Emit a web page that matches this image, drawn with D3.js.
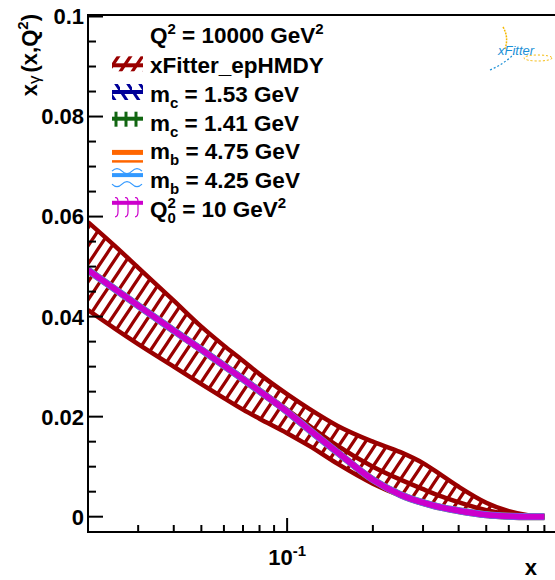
<!DOCTYPE html>
<html>
<head>
<meta charset="utf-8">
<script src="https://cdn.jsdelivr.net/npm/d3@7"></script>
<style>
	body { margin: 0; background: #fff; }
	svg { display: block; font-family: "Liberation Sans", Arial, Helvetica, sans-serif; font-weight: bold; }
</style>
</head>
<body>
<div id="chart"></div>
<script>
// x grid of the curves
var x_vals = [0.02, 0.025, 0.03, 0.04, 0.05, 0.06, 0.07, 0.08, 0.1, 0.12, 0.15, 0.2, 0.25, 0.3, 0.35, 0.4, 0.5, 0.6, 0.7, 0.8];

// xFitter_epHMDY band (upper / lower edge) and central value
var band_up = [0.0589, 0.0540, 0.0498, 0.0432, 0.0380, 0.0342, 0.0312, 0.0285, 0.0245, 0.0215, 0.0182, 0.0150, 0.0129, 0.0107, 0.0082, 0.0060, 0.0028, 0.0011, 0.0003, 0.0];
var band_lo = [0.0413, 0.0375, 0.0345, 0.0300, 0.0265, 0.0237, 0.0214, 0.0196, 0.0167, 0.0141, 0.0106, 0.0066, 0.0042, 0.0026, 0.0017, 0.0011, 0.0005, 0.0002, 0.0, 0.0];
var central = [0.0495, 0.0456, 0.0424, 0.0374, 0.0336, 0.0305, 0.0278, 0.0254, 0.0214, 0.0181, 0.0142, 0.0100, 0.0074, 0.0055, 0.0040, 0.0029, 0.0013, 0.0005, 0.0001, 0.0];

// variations (mc, mb, Q0^2) sit on top of each other
var variant_central = [0.0493, 0.0454, 0.0422, 0.0372, 0.0334, 0.0302, 0.0275, 0.0251, 0.0210, 0.0173, 0.0129, 0.0074, 0.0044, 0.0028, 0.0018, 0.0012, 0.0004, 0.0001, 0.0, 0.0];

var legend_labels = ["xFitter_epHMDY", "m_c = 1.53 GeV", "m_c = 1.41 GeV", "m_b = 4.75 GeV", "m_b = 4.25 GeV", "Q0 = 10 GeV2"];
var legend_colors = ["#990000", "#000099", "#116611", "#ff6600", "#3399ff", "#cc00cc"];

var y_major = [0, 0.02, 0.04, 0.06, 0.08, 0.1];
var y_labels = ["0", "0.02", "0.04", "0.06", "0.08", "0.1"];
var x_major = [0.1, 1];
var x_minor = [0.03, 0.04, 0.05, 0.06, 0.07, 0.08, 0.09, 0.2, 0.3, 0.4, 0.5, 0.6, 0.7, 0.8, 0.9];

var W = 555, H = 580;
var P_LEFT = 88, P_TOP = 15, P_BOTTOM = 532, P_RIGHT = 572;
var RED = "#990000";

var svg = d3.select("#chart").append("svg")
	.attr("width", W)
	.attr("height", H);

var defs = svg.append("defs");

function hatch(id, color, d, w, h, sw) {
	defs.append("pattern")
		.attr("id", id)
		.attr("patternUnits", "userSpaceOnUse")
		.attr("width", w)
		.attr("height", h)
		.append("path")
		.attr("d", d)
		.attr("stroke", color)
		.attr("stroke-width", sw)
		.attr("fill", "none");
}
hatch("hatchRed", RED, "M-6,9 L6,-9 M0,18 L12,0 M6,27 L18,9", 12, 18, 3.2);
hatch("hatchBlue", "#000099", "M-6,-9 L6,9 M0,0 L12,18 M6,-9 L18,9", 12, 18, 3);

defs.append("clipPath").attr("id", "plotClip")
	.append("rect")
	.attr("x", P_LEFT).attr("y", P_TOP)
	.attr("width", P_RIGHT - P_LEFT).attr("height", P_BOTTOM - P_TOP);

var x = d3.scaleLog().domain([0.02, 1]).range([P_LEFT, P_RIGHT]);
var y = d3.scaleLinear().domain([-0.00306, 0.1003]).range([P_BOTTOM, P_TOP]);

var rows = x_vals.map(function(d, i) {
	return { x: d, up: band_up[i], lo: band_lo[i], c: central[i], v: variant_central[i] };
});

var plot = svg.append("g").attr("clip-path", "url(#plotClip)");

var area = d3.area()
	.curve(d3.curveMonotoneX)
	.x(function(d) { return x(d.x); })
	.y0(function(d) { return y(d.lo); })
	.y1(function(d) { return y(d.up); });

function lineOf(key) {
	return d3.line()
		.curve(d3.curveMonotoneX)
		.x(function(d) { return x(d.x); })
		.y(function(d) { return y(d[key]); });
}

plot.append("path")
	.datum(rows)
	.attr("d", area)
	.attr("fill", "url(#hatchRed)");

["up", "lo", "c"].forEach(function(k) {
	plot.append("path")
		.datum(rows)
		.attr("d", lineOf(k))
		.attr("fill", "none")
		.attr("stroke", RED)
		.attr("stroke-width", 4.5)
		.attr("stroke-linejoin", "round");
});

// variations: blue, green, orange, light blue, then magenta on top
var var_widths = [6, 6, 7, 7, 6];
legend_colors.slice(1).forEach(function(col, i) {
	plot.append("path")
		.datum(rows)
		.attr("d", lineOf("v"))
		.attr("fill", "none")
		.attr("stroke", col)
		.attr("stroke-width", var_widths[i])
		.attr("stroke-linejoin", "round");
});

// frame and axes
var axes = svg.append("g").attr("stroke", "#000").attr("stroke-width", 2);
axes.append("line").attr("x1", P_LEFT).attr("x2", P_LEFT).attr("y1", P_TOP).attr("y2", P_BOTTOM + 1);
axes.append("line").attr("x1", P_LEFT - 1).attr("x2", W + 20).attr("y1", P_BOTTOM).attr("y2", P_BOTTOM);
axes.append("line").attr("x1", P_LEFT - 1).attr("x2", W + 20).attr("y1", P_TOP).attr("y2", P_TOP);

var y_minor = d3.range(0, 0.1001, 0.005).filter(function(v) {
	return Math.abs(v / 0.02 - Math.round(v / 0.02)) > 0.01;
});

axes.selectAll(".ymaj").data(y_major).enter().append("line")
	.attr("x1", P_LEFT).attr("x2", P_LEFT + 15)
	.attr("y1", function(d) { return y(d); })
	.attr("y2", function(d) { return y(d); });
axes.selectAll(".ymin").data(y_minor).enter().append("line")
	.attr("x1", P_LEFT).attr("x2", P_LEFT + 8)
	.attr("y1", function(d) { return y(d); })
	.attr("y2", function(d) { return y(d); });
axes.selectAll(".xmaj").data(x_major).enter().append("line")
	.attr("x1", function(d) { return x(d); })
	.attr("x2", function(d) { return x(d); })
	.attr("y1", P_BOTTOM).attr("y2", P_BOTTOM - 14);
axes.selectAll(".xmin").data(x_minor).enter().append("line")
	.attr("x1", function(d) { return x(d); })
	.attr("x2", function(d) { return x(d); })
	.attr("y1", P_BOTTOM).attr("y2", P_BOTTOM - 7);

svg.selectAll(".ylab").data(y_major).enter().append("text")
	.attr("x", P_LEFT - 4)
	.attr("y", function(d) { return y(d); })
	.attr("dy", "0.36em")
	.attr("text-anchor", "end")
	.attr("font-size", 22)
	.text(function(d, i) { return y_labels[i]; });

var xl = svg.append("text")
	.attr("x", x(0.1))
	.attr("y", 565)
	.attr("text-anchor", "middle")
	.attr("font-size", 22);
xl.append("tspan").text("10");
xl.append("tspan").attr("dy", -9).attr("font-size", 15).text("-1");

svg.append("text")
	.attr("x", 537).attr("y", 575)
	.attr("text-anchor", "end")
	.attr("font-size", 22)
	.text("x");

var yt = svg.append("text")
	.attr("transform", "translate(37,14) rotate(-90)")
	.attr("text-anchor", "end")
	.attr("font-size", 22);
yt.append("tspan").text("x");
yt.append("tspan").attr("font-weight", "normal").attr("font-size", 17).attr("dy", 3).text("\u03b3");
yt.append("tspan").attr("dy", -3).attr("dx", 3).text("(x,Q");
yt.append("tspan").attr("dy", -9).attr("font-size", 15).text("2");
yt.append("tspan").attr("dy", 9).text(")");

// legend
var LX = 150, FS = 22.5;
var title = svg.append("text").attr("x", LX).attr("y", 43.3).attr("font-size", FS);
title.append("tspan").text("Q");
title.append("tspan").attr("dy", -9).attr("font-size", 15).text("2");
title.append("tspan").attr("dy", 9).text(" = 10000 GeV");
title.append("tspan").attr("dy", -9).attr("font-size", 15).text("2");

var leg = svg.append("g");
legend_labels.forEach(function(lab, i) {
	var by = 73.3 + i * 28.7;
	var t = leg.append("text").attr("x", LX).attr("y", by).attr("font-size", FS);
	if (i == 0) {
		t.text(lab);
	} else if (i < 5) {
		t.append("tspan").text("m");
		t.append("tspan").attr("dy", 6).attr("font-size", 15).text(i < 3 ? "c" : "b");
		t.append("tspan").attr("dy", -6).text(lab.slice(3));
	} else {
		t.append("tspan").text("Q");
		t.append("tspan").attr("dy", -9).attr("font-size", 15).text("2");
		t.append("tspan").attr("dx", -8.3).attr("dy", 15).attr("font-size", 15).text("0");
		t.append("tspan").attr("dy", -6).text(" = 10 GeV");
		t.append("tspan").attr("dy", -9).attr("font-size", 15).text("2");
	}
});

function legBar(cy, col, w) {
	leg.append("line").attr("x1", 112).attr("x2", 143).attr("y1", cy).attr("y2", cy)
		.attr("stroke", col).attr("stroke-width", w);
}
function rowY(i) { return 73.3 + i * 28.7 - 8; }

// xFitter symbol
leg.append("rect").attr("x", 112).attr("y", rowY(0) - 9).attr("width", 31).attr("height", 15)
	.attr("fill", "url(#hatchRed)");
legBar(rowY(0), RED, 4);
// mc 1.53
leg.append("rect").attr("x", 112).attr("y", rowY(1) - 10).attr("width", 31).attr("height", 16)
	.attr("fill", "url(#hatchBlue)");
legBar(rowY(1) - 2, "#000099", 4);
// mc 1.41
[116, 126, 136].forEach(function(vx) {
	leg.append("line").attr("x1", vx).attr("x2", vx)
		.attr("y1", rowY(2) - 11).attr("y2", rowY(2) + 4)
		.attr("stroke", "#116611").attr("stroke-width", 3);
});
legBar(rowY(2) - 4, "#116611", 4);
// mb 4.75
legBar(rowY(3) + 1, "#ff6600", 5);
legBar(rowY(3) + 10, "#ff6600", 2.5);
// mb 4.25
var waveA = "M112," + (rowY(4) - 9) + " q5,-5 10,0 t10,0 t10,0";
var waveB = "M112," + (rowY(4) + 4) + " q5,5 10,0 t10,0 t10,0";
[waveA, waveB].forEach(function(p) {
	leg.append("path").attr("d", p).attr("fill", "none")
		.attr("stroke", "#3399ff").attr("stroke-width", 1.2);
});
legBar(rowY(4) - 5, "#3399ff", 4);
// Q0
[118, 128, 138].forEach(function(hx) {
	var cy = rowY(5) - 6;
	leg.append("path")
		.attr("d", "M" + (hx - 3) + "," + (cy - 5) + " q3,-1 3,4 l0,10 q0,5 -3,5")
		.attr("fill", "none").attr("stroke", "#cc00cc").attr("stroke-width", 1.2);
});
legBar(rowY(5) - 6, "#cc00cc", 4);

// xFitter logo
var logo = svg.append("g");
logo.append("path").attr("d", "M503,27 q6,10 2,22").attr("fill", "none")
	.attr("stroke", "#f5b800").attr("stroke-width", 1.5).attr("stroke-dasharray", "2,1");
logo.append("path").attr("d", "M490,70 q14,-6 24,-16").attr("fill", "none")
	.attr("stroke", "#1a8fd6").attr("stroke-width", 1.2).attr("stroke-dasharray", "2,2");
logo.append("ellipse").attr("cx", 538).attr("cy", 58).attr("rx", 14).attr("ry", 3)
	.attr("fill", "none").attr("stroke", "#f5b800").attr("stroke-width", 1).attr("stroke-dasharray", "2,2");
logo.append("text").attr("x", 498).attr("y", 55)
	.attr("font-size", 13).attr("font-style", "italic").attr("font-weight", "normal")
	.attr("fill", "#1a8fd6").text("xFitter");
</script>
</body>
</html>
